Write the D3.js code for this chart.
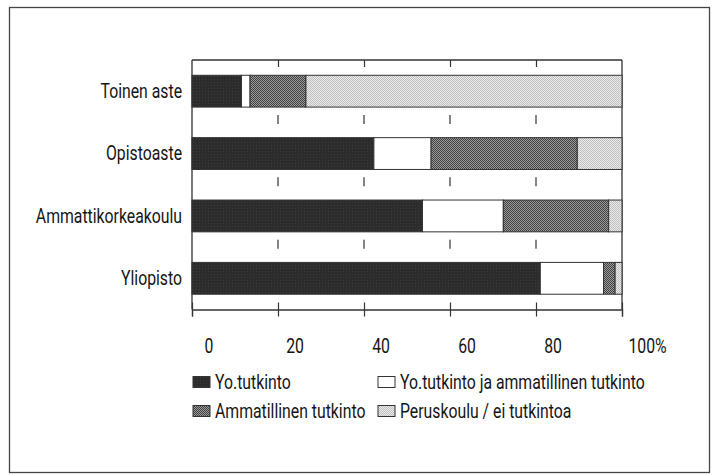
<!DOCTYPE html>
<html>
<head>
<meta charset="utf-8">
<script src="https://cdn.jsdelivr.net/npm/d3@7"></script>
<style>
  body { margin: 0; background: #fff; }
  svg text { font-family: Roboto, "DejaVu Sans", sans-serif; fill: #151515; font-size: 19.5px; }
</style>
</head>
<body>
<svg id="chart" width="715" height="475"></svg>
<script>
// data (percent shares)
var categories = ["Toinen aste", "Opistoaste", "Ammattikorkeakoulu", "Yliopisto"];
var seriesNames = ["Yo.tutkinto", "Yo.tutkinto ja ammatillinen tutkinto", "Ammatillinen tutkinto", "Peruskoulu / ei tutkintoa"];
var yo = [11.5, 42.3, 53.6, 81];
var yoAmm = [2, 13.3, 18.8, 14.7];
var amm = [13, 34, 24.5, 2.7];
var perus = [73.5, 10.4, 3.1, 1.6];
var tickValues = [0, 20, 40, 60, 80, 100];
var tickLabels = ["0", "20", "40", "60", "80", "100%"];

var squeeze = 0.81; // condensed look of the original type

var svg = d3.select("#chart");
var margin = { left: 192, right: 93, top: 60, bottom: 165.5 };
var width = 715 - margin.left - margin.right,
  height = 475 - margin.top - margin.bottom;

// place a text at (px, py) and squeeze it horizontally
function condense(sel, px, py) {
  sel.attr("transform", function (d, i) {
    var a = typeof px === "function" ? px(d, i) : px;
    var b = typeof py === "function" ? py(d, i) : py;
    return "translate(" + a + "," + b + ") scale(" + squeeze + ",1)";
  }).attr("x", 0).attr("y", 0);
}

// outer frame
svg.append("rect")
  .attr("x", 9.5).attr("y", 7.5)
  .attr("width", 700).attr("height", 465)
  .attr("fill", "none").attr("stroke", "#444").attr("stroke-width", 1.3);

var defs = svg.append("defs");
var pm = defs.append("pattern").attr("id", "pMed").attr("patternUnits", "userSpaceOnUse")
  .attr("width", 2).attr("height", 2);
pm.append("rect").attr("width", 2).attr("height", 2).attr("fill", "#9c9c9c");
pm.append("rect").attr("width", 1).attr("height", 1).attr("fill", "#404040");
pm.append("rect").attr("x", 1).attr("y", 1).attr("width", 1).attr("height", 1).attr("fill", "#404040");
var pl = defs.append("pattern").attr("id", "pLight").attr("patternUnits", "userSpaceOnUse")
  .attr("width", 2).attr("height", 2);
pl.append("rect").attr("width", 2).attr("height", 2).attr("fill", "#ececec");
pl.append("rect").attr("width", 1).attr("height", 1).attr("fill", "#bdbdbd");
pl.append("rect").attr("x", 1).attr("y", 1).attr("width", 1).attr("height", 1).attr("fill", "#bdbdbd");
var pd = defs.append("pattern").attr("id", "pDark").attr("patternUnits", "userSpaceOnUse")
  .attr("width", 3).attr("height", 3);
pd.append("rect").attr("width", 3).attr("height", 3).attr("fill", "#2c2c2c");
pd.append("rect").attr("x", 1).attr("y", 1).attr("width", 1).attr("height", 1).attr("fill", "#3c3c3c");

var fills = ["url(#pDark)", "#fff", "url(#pMed)", "url(#pLight)"];

var g = svg.append("g").attr("transform", "translate(" + margin.left + "," + margin.top + ")");

var x = d3.scaleLinear().domain([0, 100]).range([0, width]);
var y = d3.scaleBand().domain(categories).range([0, height]).paddingInner(0.49).paddingOuter(0.245);

var rows = categories.map(function (c, i) {
  return { cat: c, yo: yo[i], yoAmm: yoAmm[i], amm: amm[i], perus: perus[i] };
});
var stack = d3.stack().keys(["yo", "yoAmm", "amm", "perus"]);
var layers = stack(rows);

// short dashes between bars
var gapYs = [];
for (var i = 0; i < categories.length - 1; i++) {
  gapYs.push((y(categories[i]) + y.bandwidth() + y(categories[i + 1])) / 2 - 3);
}
tickValues.slice(1, -1).forEach(function (v) {
  g.selectAll(null).data(gapYs).enter().append("line")
    .attr("x1", x(v)).attr("x2", x(v))
    .attr("y1", function (d) { return d - 4.5; })
    .attr("y2", function (d) { return d + 4.5; })
    .attr("stroke", "#333").attr("stroke-width", 1.2);
});

// plot frame
g.append("line").attr("x1", 0).attr("x2", width).attr("y1", 0).attr("y2", 0).attr("stroke", "#333").attr("stroke-width", 1.3);
g.append("line").attr("x1", 0).attr("x2", 0).attr("y1", 0).attr("y2", height).attr("stroke", "#333").attr("stroke-width", 1.3);
g.append("line").attr("x1", width).attr("x2", width).attr("y1", 0).attr("y2", height).attr("stroke", "#333").attr("stroke-width", 1.3);

// top inner ticks
var topAxis = g.append("g")
  .call(d3.axisTop(x).tickValues(tickValues.slice(1, -1)).tickSize(-7).tickFormat(""));
topAxis.select(".domain").remove();
topAxis.selectAll("line").attr("stroke", "#333").attr("stroke-width", 1.2);

// bars
g.selectAll(".layer").data(layers).enter().append("g")
  .attr("class", "layer")
  .attr("fill", function (d, i) { return fills[i]; })
  .selectAll("rect").data(function (d) { return d; }).enter().append("rect")
  .attr("x", function (d) { return x(d[0]); })
  .attr("y", function (d) { return y(d.data.cat); })
  .attr("width", function (d) { return x(d[1]) - x(d[0]); })
  .attr("height", y.bandwidth())
  .attr("stroke", "#333").attr("stroke-width", 1);

// bottom axis
var bottomAxis = g.append("g").attr("transform", "translate(0," + height + ")")
  .call(d3.axisBottom(x).tickValues(tickValues).tickSizeOuter(0).tickSize(7)
    .tickFormat(function (d, i) { return tickLabels[i]; }));
bottomAxis.attr("font-family", null).attr("font-size", null);
bottomAxis.select(".domain").attr("stroke", "#333").attr("stroke-width", 1.3);
bottomAxis.selectAll(".tick line").attr("y1", -7).attr("stroke", "#333").attr("stroke-width", 1.2);
bottomAxis.selectAll(".tick text").attr("dy", 0).attr("fill", "#151515")
  .call(condense, function (d, i) { return i === tickValues.length - 1 ? 25 : 16.5; }, 43.5);

// category labels
var leftAxis = g.append("g").call(d3.axisLeft(y).tickSize(0));
leftAxis.attr("font-family", null).attr("font-size", null);
leftAxis.select(".domain").remove();
leftAxis.selectAll("text").attr("fill", "#151515").attr("dy", "0.35em")
  .call(condense, -10, 0);

// legend
var legendPos = [
  { x: 193, y: 382 }, { x: 378, y: 382 },
  { x: 193, y: 411 }, { x: 378, y: 411 }
];
var legend = svg.selectAll(".legend").data(seriesNames).enter().append("g")
  .attr("class", "legend")
  .attr("transform", function (d, i) { return "translate(" + legendPos[i].x + "," + legendPos[i].y + ")"; });
legend.append("rect")
  .attr("x", 0).attr("y", -5.5).attr("width", 17).attr("height", 11)
  .attr("fill", function (d, i) { return fills[i]; })
  .attr("stroke", "#333").attr("stroke-width", 1);
legend.append("text")
  .attr("dy", "0.35em")
  .text(function (d) { return d; })
  .call(condense, 22, 0);
</script>
</body>
</html>
